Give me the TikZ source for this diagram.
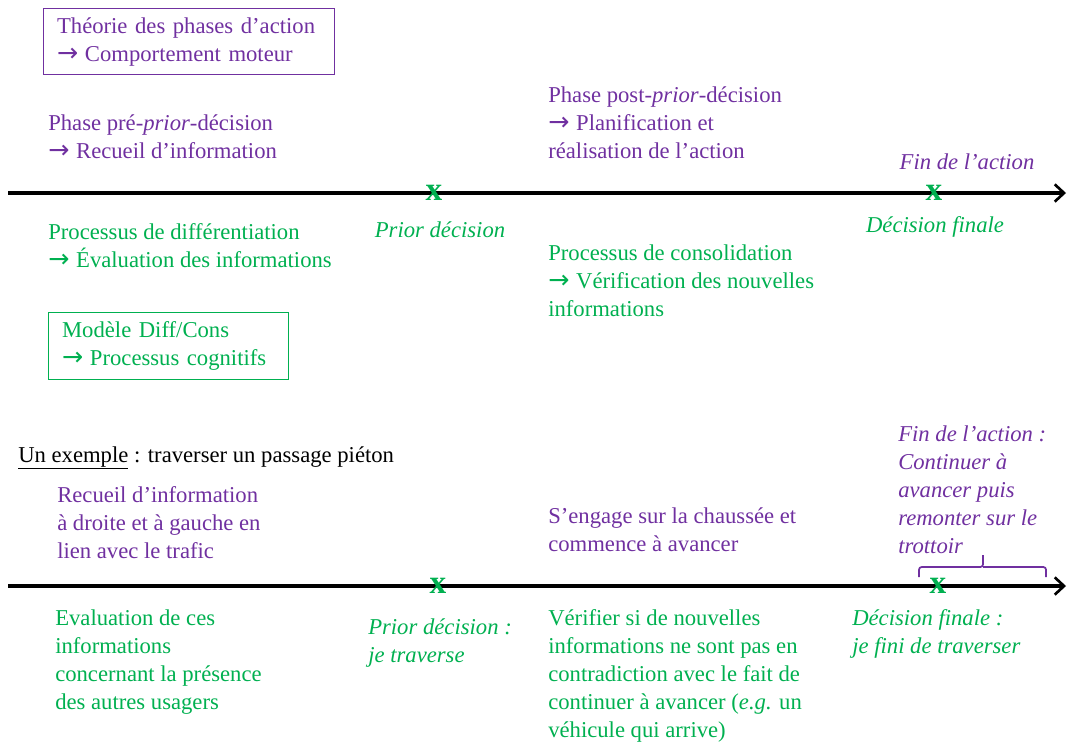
\documentclass[tikz,border=0pt]{standalone}
\usepackage{fontspec}
\setmainfont{Liberation Serif}
\newfontfamily\fleche{DejaVu Sans}
\usetikzlibrary{arrows.meta,positioning}
\definecolor{violet}{HTML}{7030A0}
\definecolor{vert}{HTML}{00B050}
\newcommand\fl{{\fleche\fontsize{19}{21}\selectfont →}\hspace{5pt}}

\tikzset{
  txt/.style={inner sep=0pt, anchor=base west, align=left,
    font=\fontsize{17}{21}\selectfont},
  txtc/.style={txt, anchor=base},
  phase/.style={txt, text=violet},
  proc/.style={txt, text=vert},
  ital/.style={font=\fontsize{17}{21}\selectfont\itshape},
  cadre/.style={draw, line width=1.1pt, anchor=north west, inner xsep=10pt,
    inner ysep=0pt, align=left, font=\fontsize{17}{21}\selectfont},
  axe/.style={line width=2.3pt, -{Straight Barb[length=7pt,width=13pt,line width=2pt]}},
  croix/.style={inner sep=0pt, text=vert, font=\fontsize{25}{25}\selectfont\bfseries},
}

\begin{document}
\begin{tikzpicture}[x=0.75pt,y=-0.75pt]
  \useasboundingbox (0,0) rectangle (1069,742);

  % axe du haut
  \coordinate (a1g) at (8,193);
  \coordinate (a1d) at (1066,193);
  \draw[axe] (a1g) -- (a1d);
  \node[croix] (prior1) at (434,193) {x};
  \node[croix] (final1) at (934,193) {x};

  \node[cadre, violet, minimum width=215pt, minimum height=49.5pt,
    text width=198pt] (theorie) at (43,8)
    {Théorie des phases d’action\\\fl Comportement moteur};
  \node[phase] (pre) at (48,158) {Phase pré-\textit{prior}-décision\\\fl Recueil d’information};
  \node[proc] (diff) at (48,267) {Processus de différentiation\\\fl Évaluation des informations};
  \node[cadre, vert, minimum width=177pt, minimum height=50pt,
    text width=160pt] (modele) at (48,312)
    {Modèle Diff/Cons\\\fl Processus cognitifs};
  \node[txtc, text=vert, ital] (lbprior1) at (440,237) {Prior décision};
  \node[phase] (post) at (548,158) {Phase post-\textit{prior}-décision\\\fl Planification et\\réalisation de l’action};
  \node[proc] (cons) at (548,316) {Processus de consolidation\\\fl Vérification des nouvelles\\informations};
  \node[txtc, text=violet, ital] (fin1) at (967,169) {Fin de l’action};
  \node[txtc, text=vert, ital] (lbfinal1) at (935,232) {Décision finale};

  % exemple
  \node[txt] (exemple) at (18,462) {\underline{Un exemple} : traverser un passage piéton};

  % axe du bas
  \coordinate (a2g) at (8,586);
  \coordinate (a2d) at (1066,586);
  \draw[axe] (a2g) -- (a2d);
  \node[croix] (prior2) at (438,586) {x};
  \node[croix] (final2) at (938,586) {x};

  \node[phase] (recueil) at (57,558) {Recueil d’information\\à droite et à gauche en\\lien avec le trafic};
  \node[phase] (engage) at (548,551) {S’engage sur la chaussée et\\commence à avancer};
  \node[phase, ital] (fin2) at (898,553)
    {Fin de l’action :\\Continuer à\\avancer puis\\remonter sur le\\trottoir};
  \draw[violet, line width=1.3pt, rounded corners=2pt]
    (919,577) -- (919,567) -- (983,567) -- (983,555) (983,567) -- (1046,567) -- (1046,577);
  \node[proc] (evaluation) at (55,709) {Evaluation de ces\\informations\\concernant la présence\\des autres usagers};
  \node[proc, ital] (lbprior2) at (368,662) {Prior décision :\\je traverse};
  \node[proc] (verifier) at (548,737) {Vérifier si de nouvelles\\informations ne sont pas en\\contradiction avec le fait de\\continuer à avancer (\textit{e.g.} un\\véhicule qui arrive)};
  \node[proc, ital] (lbfinal2) at (852,653) {Décision finale :\\je fini de traverser};
\end{tikzpicture}
\end{document}
